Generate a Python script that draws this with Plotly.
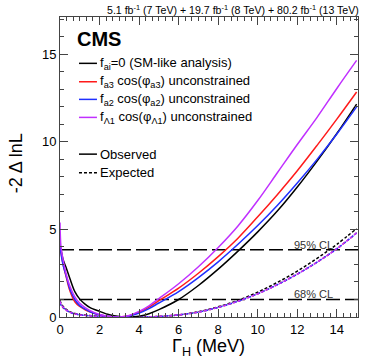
import plotly.graph_objects as go

# ---------------- data ----------------
gamma = [0, 0.05, 0.15, 0.3, 0.5, 0.75, 1, 1.25, 1.5, 2, 2.5, 3, 3.5, 4, 4.5, 5,
         6, 7, 8, 9, 10, 11, 12, 13, 14, 15]

obs_sm = [4.1, 3.85, 3.3, 2.85, 2.2, 1.45, 1.02, 0.75, 0.55, 0.32, 0.13, 0.03, 0.0, 0.05, 0.19, 0.42,
          1.0, 1.8, 2.73, 3.76, 4.86, 6.06, 7.42, 8.9, 10.48, 12.16]
obs_fa3 = [4.3, 3.7, 3.05, 2.35, 1.5, 0.87, 0.6, 0.43, 0.3, 0.12, 0.03, 0.0, 0.07, 0.27, 0.56, 0.93,
           1.65, 2.5, 3.45, 4.5, 5.72, 7.0, 8.35, 9.8, 11.3, 12.85]
obs_fa2 = [4.2, 3.65, 3.0, 2.4, 1.6, 1.0, 0.65, 0.46, 0.31, 0.12, 0.03, 0.0, 0.06, 0.22, 0.48, 0.8,
           1.45, 2.25, 3.15, 4.15, 5.22, 6.38, 7.65, 9.0, 10.45, 12.0]
obs_fL1 = [5.4, 4.0, 3.3, 2.5, 1.75, 1.15, 0.78, 0.55, 0.38, 0.14, 0.03, 0.0, 0.09, 0.32, 0.64, 1.05,
           1.9, 2.87, 3.97, 5.2, 6.65, 8.25, 9.85, 11.4, 13.05, 14.65]

exp_sm = [0.95, 0.8, 0.62, 0.45, 0.3, 0.2, 0.14, 0.11, 0.08, 0.04, 0.02, 0.01, 0.0, 0.0, 0.01, 0.03,
          0.12, 0.3, 0.58, 0.95, 1.42, 1.98, 2.62, 3.35, 4.15, 5.05]
exp_fa3 = [0.85, 0.7, 0.55, 0.4, 0.27, 0.18, 0.12, 0.095, 0.07, 0.03, 0.015, 0.005, 0.0, 0.0, 0.01, 0.03,
           0.12, 0.28, 0.55, 0.9, 1.33, 1.85, 2.45, 3.13, 3.9, 4.8]
exp_fa2 = [0.8, 0.68, 0.54, 0.4, 0.27, 0.18, 0.12, 0.095, 0.07, 0.03, 0.015, 0.005, 0.0, 0.0, 0.01, 0.03,
           0.12, 0.28, 0.55, 0.9, 1.33, 1.85, 2.45, 3.13, 3.9, 4.8]
exp_fL1 = [0.9, 0.74, 0.57, 0.41, 0.28, 0.18, 0.12, 0.095, 0.07, 0.03, 0.015, 0.005, 0.0, 0.0, 0.01, 0.03,
           0.12, 0.28, 0.55, 0.9, 1.33, 1.85, 2.45, 3.13, 3.9, 4.8]

cl_levels = [1.0, 3.84]
cl_labels = ["68% CL", "95% CL"]

legend_labels = [
    "f<sub>ai</sub>=0 (SM-like analysis)",
    "f<sub>a3</sub> cos(φ<sub>a3</sub>) unconstrained",
    "f<sub>a2</sub> cos(φ<sub>a2</sub>) unconstrained",
    "f<sub>Λ1</sub> cos(φ<sub>Λ1</sub>) unconstrained",
]
style_labels = ["Observed", "Expected"]

x_range = [0, 15.07]
y_range = [0, 17.13]
x_ticks = [0, 2, 4, 6, 8, 10, 12, 14]
y_ticks = [0, 5, 10, 15]

# ---------------- styling ----------------
FONT = "Liberation Sans, Arial, Helvetica, sans-serif"
colors = ["#000000", "#ff1a1a", "#1f2fff", "#c030ff"]

fig = go.Figure()

# CL lines
for lvl in cl_levels:
    fig.add_trace(go.Scatter(x=x_range, y=[lvl, lvl], mode="lines",
                             line=dict(color="black", width=1.5, dash="14px,5px"),
                             showlegend=False, hoverinfo="skip"))

exp_series = [exp_sm, exp_fa3, exp_fa2, exp_fL1]
obs_series = [obs_sm, obs_fa3, obs_fa2, obs_fL1]

for ys, c in zip(exp_series, colors):
    fig.add_trace(go.Scatter(x=gamma, y=ys, mode="lines",
                             line=dict(color=c, width=1.5, dash="3px,2px", shape="spline", smoothing=1.0),
                             showlegend=False, hoverinfo="skip"))
for ys, c in zip(obs_series, colors):
    fig.add_trace(go.Scatter(x=gamma, y=ys, mode="lines",
                             line=dict(color=c, width=1.5, shape="spline", smoothing=1.0),
                             showlegend=False, hoverinfo="skip"))

# plot area in pixels
L, R, T, B = 60, 358.3, 17, 316.7
W, H = 374, 363
def px2x(px):
    return (px - L) / (R - L)
def py2y(py):
    return (B - py) / (B - T)

shapes = []
annotations = []

# CMS label
annotations.append(dict(x=px2x(75), y=py2y(39), xref="paper", yref="paper",
                        text="<b>CMS</b>", showarrow=False, xanchor="left", yanchor="middle",
                        font=dict(family=FONT, size=20, color="black")))

# legend entries
leg_y = [63.3, 81.7, 99.3, 117.3]
for lab, c, yy in zip(legend_labels, colors, leg_y):
    shapes.append(dict(type="line", xref="paper", yref="paper",
                       x0=px2x(79), x1=px2x(97), y0=py2y(yy), y1=py2y(yy),
                       line=dict(color=c, width=1.5)))
    annotations.append(dict(x=px2x(98), y=py2y(yy), xref="paper", yref="paper",
                            text=lab, showarrow=False, xanchor="left", yanchor="middle",
                            font=dict(family=FONT, size=13, color="black")))
sty_y = [154, 172.7]
for lab, dash, yy in zip(style_labels, ["solid", "3px,2px"], sty_y):
    shapes.append(dict(type="line", xref="paper", yref="paper",
                       x0=px2x(79), x1=px2x(97), y0=py2y(yy), y1=py2y(yy),
                       line=dict(color="black", width=1.5, dash=dash)))
    annotations.append(dict(x=px2x(98), y=py2y(yy), xref="paper", yref="paper",
                            text=lab, showarrow=False, xanchor="left", yanchor="middle",
                            font=dict(family=FONT, size=13, color="black")))

# CL labels
for lvl, lab in zip(cl_levels, cl_labels):
    annotations.append(dict(x=11.72, y=lvl, xref="x", yref="y", text=lab, showarrow=False,
                            xanchor="left", yanchor="bottom", yshift=-3,
                            font=dict(family=FONT, size=11, color="#333333")))

# top luminosity text
annotations.append(dict(x=px2x(361), y=py2y(10), xref="paper", yref="paper",
                        text="5.1 fb<sup>-1</sup> (7 TeV) + 19.7 fb<sup>-1</sup> (8 TeV) + 80.2 fb<sup>-1</sup> (13 TeV)",
                        showarrow=False, xanchor="right", yanchor="middle",
                        font=dict(family=FONT, size=10.6, color="black")))

# axis titles
annotations.append(dict(x=px2x(209), y=py2y(347), xref="paper", yref="paper",
                        text="Γ<sub>H</sub> (MeV)", showarrow=False, xanchor="center", yanchor="middle",
                        font=dict(family=FONT, size=18, color="black")))
annotations.append(dict(x=px2x(16), y=py2y(163), xref="paper", yref="paper",
                        text="-2 Δ lnL", showarrow=False, xanchor="center", yanchor="middle",
                        textangle=-90, font=dict(family=FONT, size=18, color="black")))

axis_common = dict(showgrid=False, zeroline=False, showline=True, linecolor="#444444",
                   linewidth=1, mirror="ticks", ticks="inside", tickcolor="#444444",
                   tickwidth=1, automargin=False,
                   tickfont=dict(family=FONT, size=13, color="black"))

fig.update_layout(
    width=W, height=H,
    margin=dict(l=L, r=W - R, t=T, b=H - B, autoexpand=False),
    paper_bgcolor="white", plot_bgcolor="white",
    shapes=shapes, annotations=annotations,
    xaxis=dict(range=x_range, tickvals=x_ticks, ticklen=8,
               minor=dict(dtick=2 / 6, tick0=0, ticklen=4, ticks="inside", tickcolor="#444444"),
               **axis_common),
    yaxis=dict(range=y_range, tickvals=y_ticks, ticklen=8,
               minor=dict(dtick=1, tick0=0, ticklen=4, ticks="inside", tickcolor="#444444"),
               **axis_common),
)

fig.write_html("out.html", config={"displayModeBar": False},
               post_script="document.body.style.margin='0';document.body.style.overflow='hidden';")
